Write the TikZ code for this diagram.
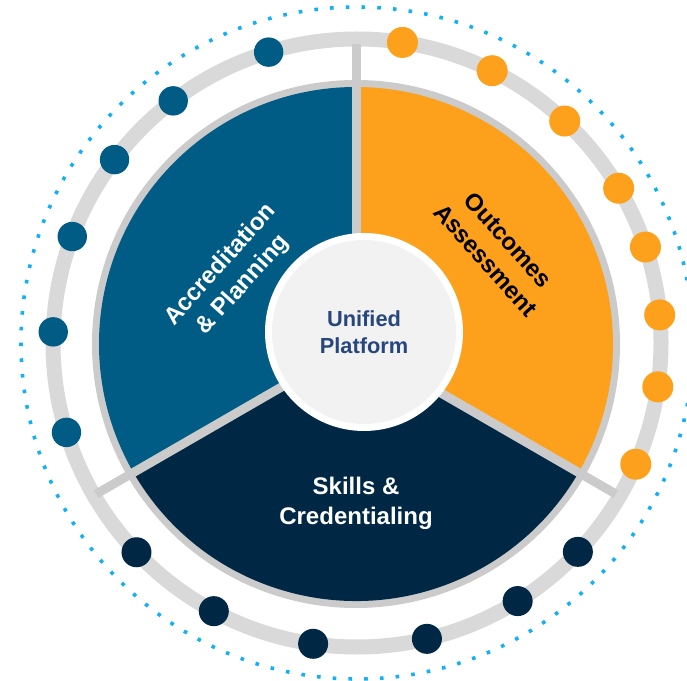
\documentclass[tikz,border=0pt]{standalone}
\usepackage{fontspec}
\setmainfont{Liberation Sans}
\definecolor{secblue}{RGB}{0,92,133}
\definecolor{secorange}{RGB}{253,161,28}
\definecolor{secnavy}{RGB}{0,40,69}
\definecolor{ringgray}{RGB}{217,217,217}
\definecolor{piegray}{RGB}{203,203,203}
\definecolor{hubgray}{RGB}{242,242,242}
\definecolor{hubtext}{RGB}{38,70,125}
\definecolor{dotsky}{RGB}{20,176,245}
\tikzset{
  dotring/.style={draw=dotsky,line width=3.6pt,dash pattern=on 3.6pt off 12.15pt},
  ringline/.style={draw=ringgray,line width=15pt},
  divider/.style={draw=piegray,line width=9pt},
  lbl/.style={font=\bfseries\fontsize{24}{30}\selectfont,align=center,inner sep=0pt},
  hub/.style={font=\bfseries\fontsize{21.8}{27}\selectfont,align=center,inner sep=0pt,text=hubtext},
}
\begin{document}
\begin{tikzpicture}[x=1pt,y=1pt]
\useasboundingbox (0,0) rectangle (687,680);
\coordinate (C) at (357,337);
\coordinate (P) at (356,336);
\coordinate (U) at (364,348);
\begin{scope}
  \clip (0,0) rectangle (687,680);
  \draw[dotring] (C) circle[radius=336];
\end{scope}
\draw[ringline] (C) circle[radius=304];
\foreach \a in {90,210,330} \draw[divider] (P) -- ++(\a:300);
\fill[piegray] (P) circle[radius=264];
\fill[secblue] (P) -- ++(90:257) arc[start angle=90,end angle=210,radius=257] -- cycle;
\fill[secorange] (P) -- ++(-30:257) arc[start angle=-30,end angle=90,radius=257] -- cycle;
\fill[secnavy] (P) -- ++(210:257) arc[start angle=210,end angle=330,radius=257] -- cycle;
\foreach \a in {90,210,330} \draw[divider] (P) -- ++(\a:262);
\fill[white] (U) circle[radius=99];
\fill[hubgray] (U) circle[radius=92];
\foreach \a in {106.9,127.2,142.9,159.5,177.9,197.1}
  \fill[secblue] (C) ++(\a:304) circle[radius=14.7];
\foreach \a in {81.4,63.6,46.9,30.6,18.4,5.3,-8.3,-23.5}
  \fill[secorange] (C) ++(\a:304) circle[radius=15.5];
\foreach \a in {223.5,241.9,261.7,283.3,301.9,316.6}
  \fill[secnavy] (C) ++(\a:304) circle[radius=15];
\node[hub] (uni) at (U) {Unified\\Platform};
\node[lbl,text=white,rotate=48] (acc) at (232,405) {Accreditation\\\& Planning};
\node[lbl,text=black,rotate=-48] (out) at (497,430) {Outcomes\\Assessment};
\node[lbl,text=white] (ski) at (356,177) {Skills \&\\Credentialing};
\end{tikzpicture}
\end{document}
